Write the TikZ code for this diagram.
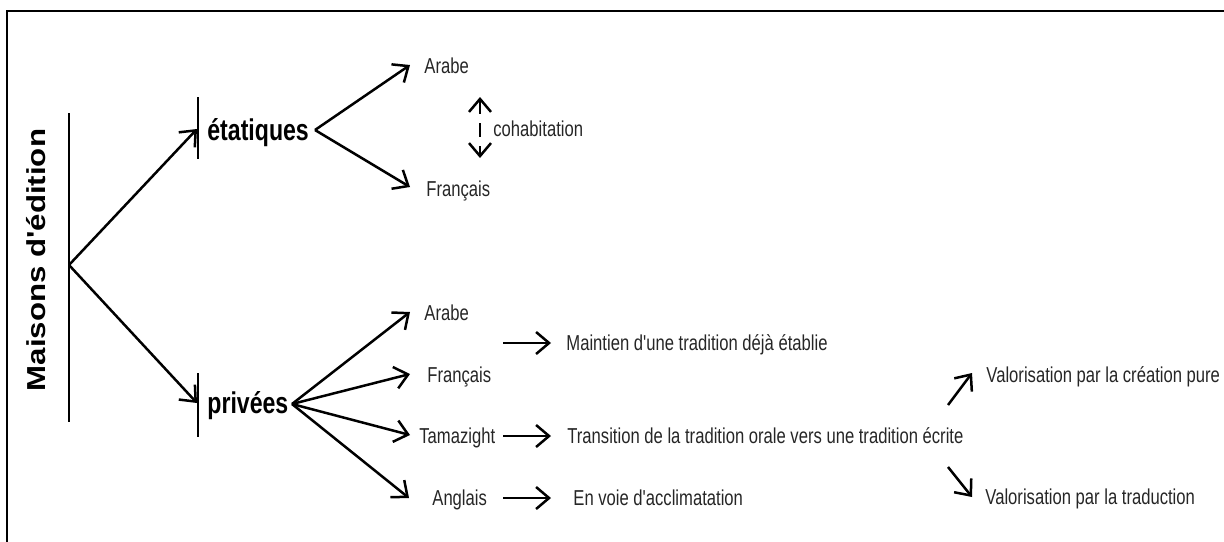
\documentclass[tikz,border=0pt]{standalone}
\usepackage{fontspec}
\setmainfont{Liberation Sans}[FakeStretch=0.77,Ligatures=TeXOff]
\newfontfamily\maisonsfont{Liberation Sans}[FakeStretch=1.2,Ligatures=TeXOff]
\usetikzlibrary{arrows.meta}
\begin{document}
\begin{tikzpicture}[x=0.5pt,y=-0.5pt,
  tip/.tip={Straight Barb[length=6.5pt,width=11pt]},
  arr/.style={line width=1.25pt,-tip},
  bar/.style={line width=1.2pt},
  lbl/.style={inner sep=0pt,anchor=base west,font=\fontsize{10.8pt}{12pt}\selectfont,text=black!85},
  big/.style={inner sep=0pt,anchor=base west,font=\fontsize{15pt}{18pt}\selectfont\bfseries}]
\useasboundingbox (0,0) rectangle (1224,541);
% frame (clipped on right and bottom)
\draw[line width=1.3pt] (7,11) rectangle (1260,580);

% root
\node[rotate=90,inner sep=0pt,font=\maisonsfont\fontsize{13pt}{15pt}\selectfont\bfseries] (maisons) at (36,260) {Maisons d'édition};
\coordinate (mtop) at (69,113);
\coordinate (mbot) at (69,422);
\coordinate (mroot) at (69,265);
\draw[bar] (mtop) -- (mbot);

% étatiques
\node[big] (etat) at (207,140) {étatiques};
\coordinate (etatbt) at (198,97);
\coordinate (etatbb) at (198,159);
\draw[bar] (etatbt) -- (etatbb);
\coordinate (etatin) at (197,129);
\draw[arr] (mroot) -- (etatin);
\coordinate (etatout) at (315,130);
\node[lbl] (ea) at (424,73) {Arabe};
\node[lbl] (ef) at (426,196) {Français};
\coordinate (eatip) at (410,65);
\coordinate (eftip) at (410,187);
\draw[arr] (etatout) -- (eatip);
\draw[arr] (etatout) -- (eftip);
\coordinate (cohtop) at (480,97);
\coordinate (cohbot) at (480,158);
\draw[line width=1.25pt,dash pattern=on 7pt off 4.5pt,tip-tip] (cohtop) -- (cohbot);
\node[lbl] (coh) at (493,136) {cohabitation};

% privées
\node[big] (priv) at (207,413) {privées};
\coordinate (privbt) at (198,373);
\coordinate (privbb) at (198,437);
\draw[bar] (privbt) -- (privbb);
\coordinate (privin) at (197,403);
\draw[arr] (mroot) -- (privin);
\coordinate (privout) at (292,404);
\node[lbl] (pa) at (424,320) {Arabe};
\node[lbl] (pf) at (427,382) {Français};
\node[lbl] (pt) at (419,443) {Tamazight};
\node[lbl] (pg) at (432,505) {Anglais};
\coordinate (patip) at (410,312);
\coordinate (pftip) at (410,374);
\coordinate (pttip) at (410,435);
\coordinate (pgtip) at (409,498);
\draw[arr] (privout) -- (patip);
\draw[arr] (privout) -- (pftip);
\draw[arr] (privout) -- (pttip);
\draw[arr] (privout) -- (pgtip);

% consequences
\node[lbl] (maint) at (566,350) {Maintien d'une tradition déjà établie};
\node[lbl] (trans) at (567,443) {Transition de la tradition orale vers une tradition écrite};
\node[lbl] (voie) at (573,505) {En voie d'acclimatation};
\coordinate (ma0) at (503,343); \coordinate (ma1) at (551,343);
\coordinate (tr0) at (503,436); \coordinate (tr1) at (551,436);
\coordinate (vo0) at (503,498); \coordinate (vo1) at (551,498);
\draw[arr] (ma0) -- (ma1);
\draw[arr] (tr0) -- (tr1);
\draw[arr] (vo0) -- (vo1);

% valorisation
\node[lbl] (vc) at (986,382) {Valorisation par la création pure};
\node[lbl] (vt) at (985,504) {Valorisation par la traduction};
\coordinate (vc0) at (948,405); \coordinate (vc1) at (972,373);
\coordinate (vt0) at (948,467); \coordinate (vt1) at (972,497);
\draw[arr] (vc0) -- (vc1);
\draw[arr] (vt0) -- (vt1);
\end{tikzpicture}
\end{document}
